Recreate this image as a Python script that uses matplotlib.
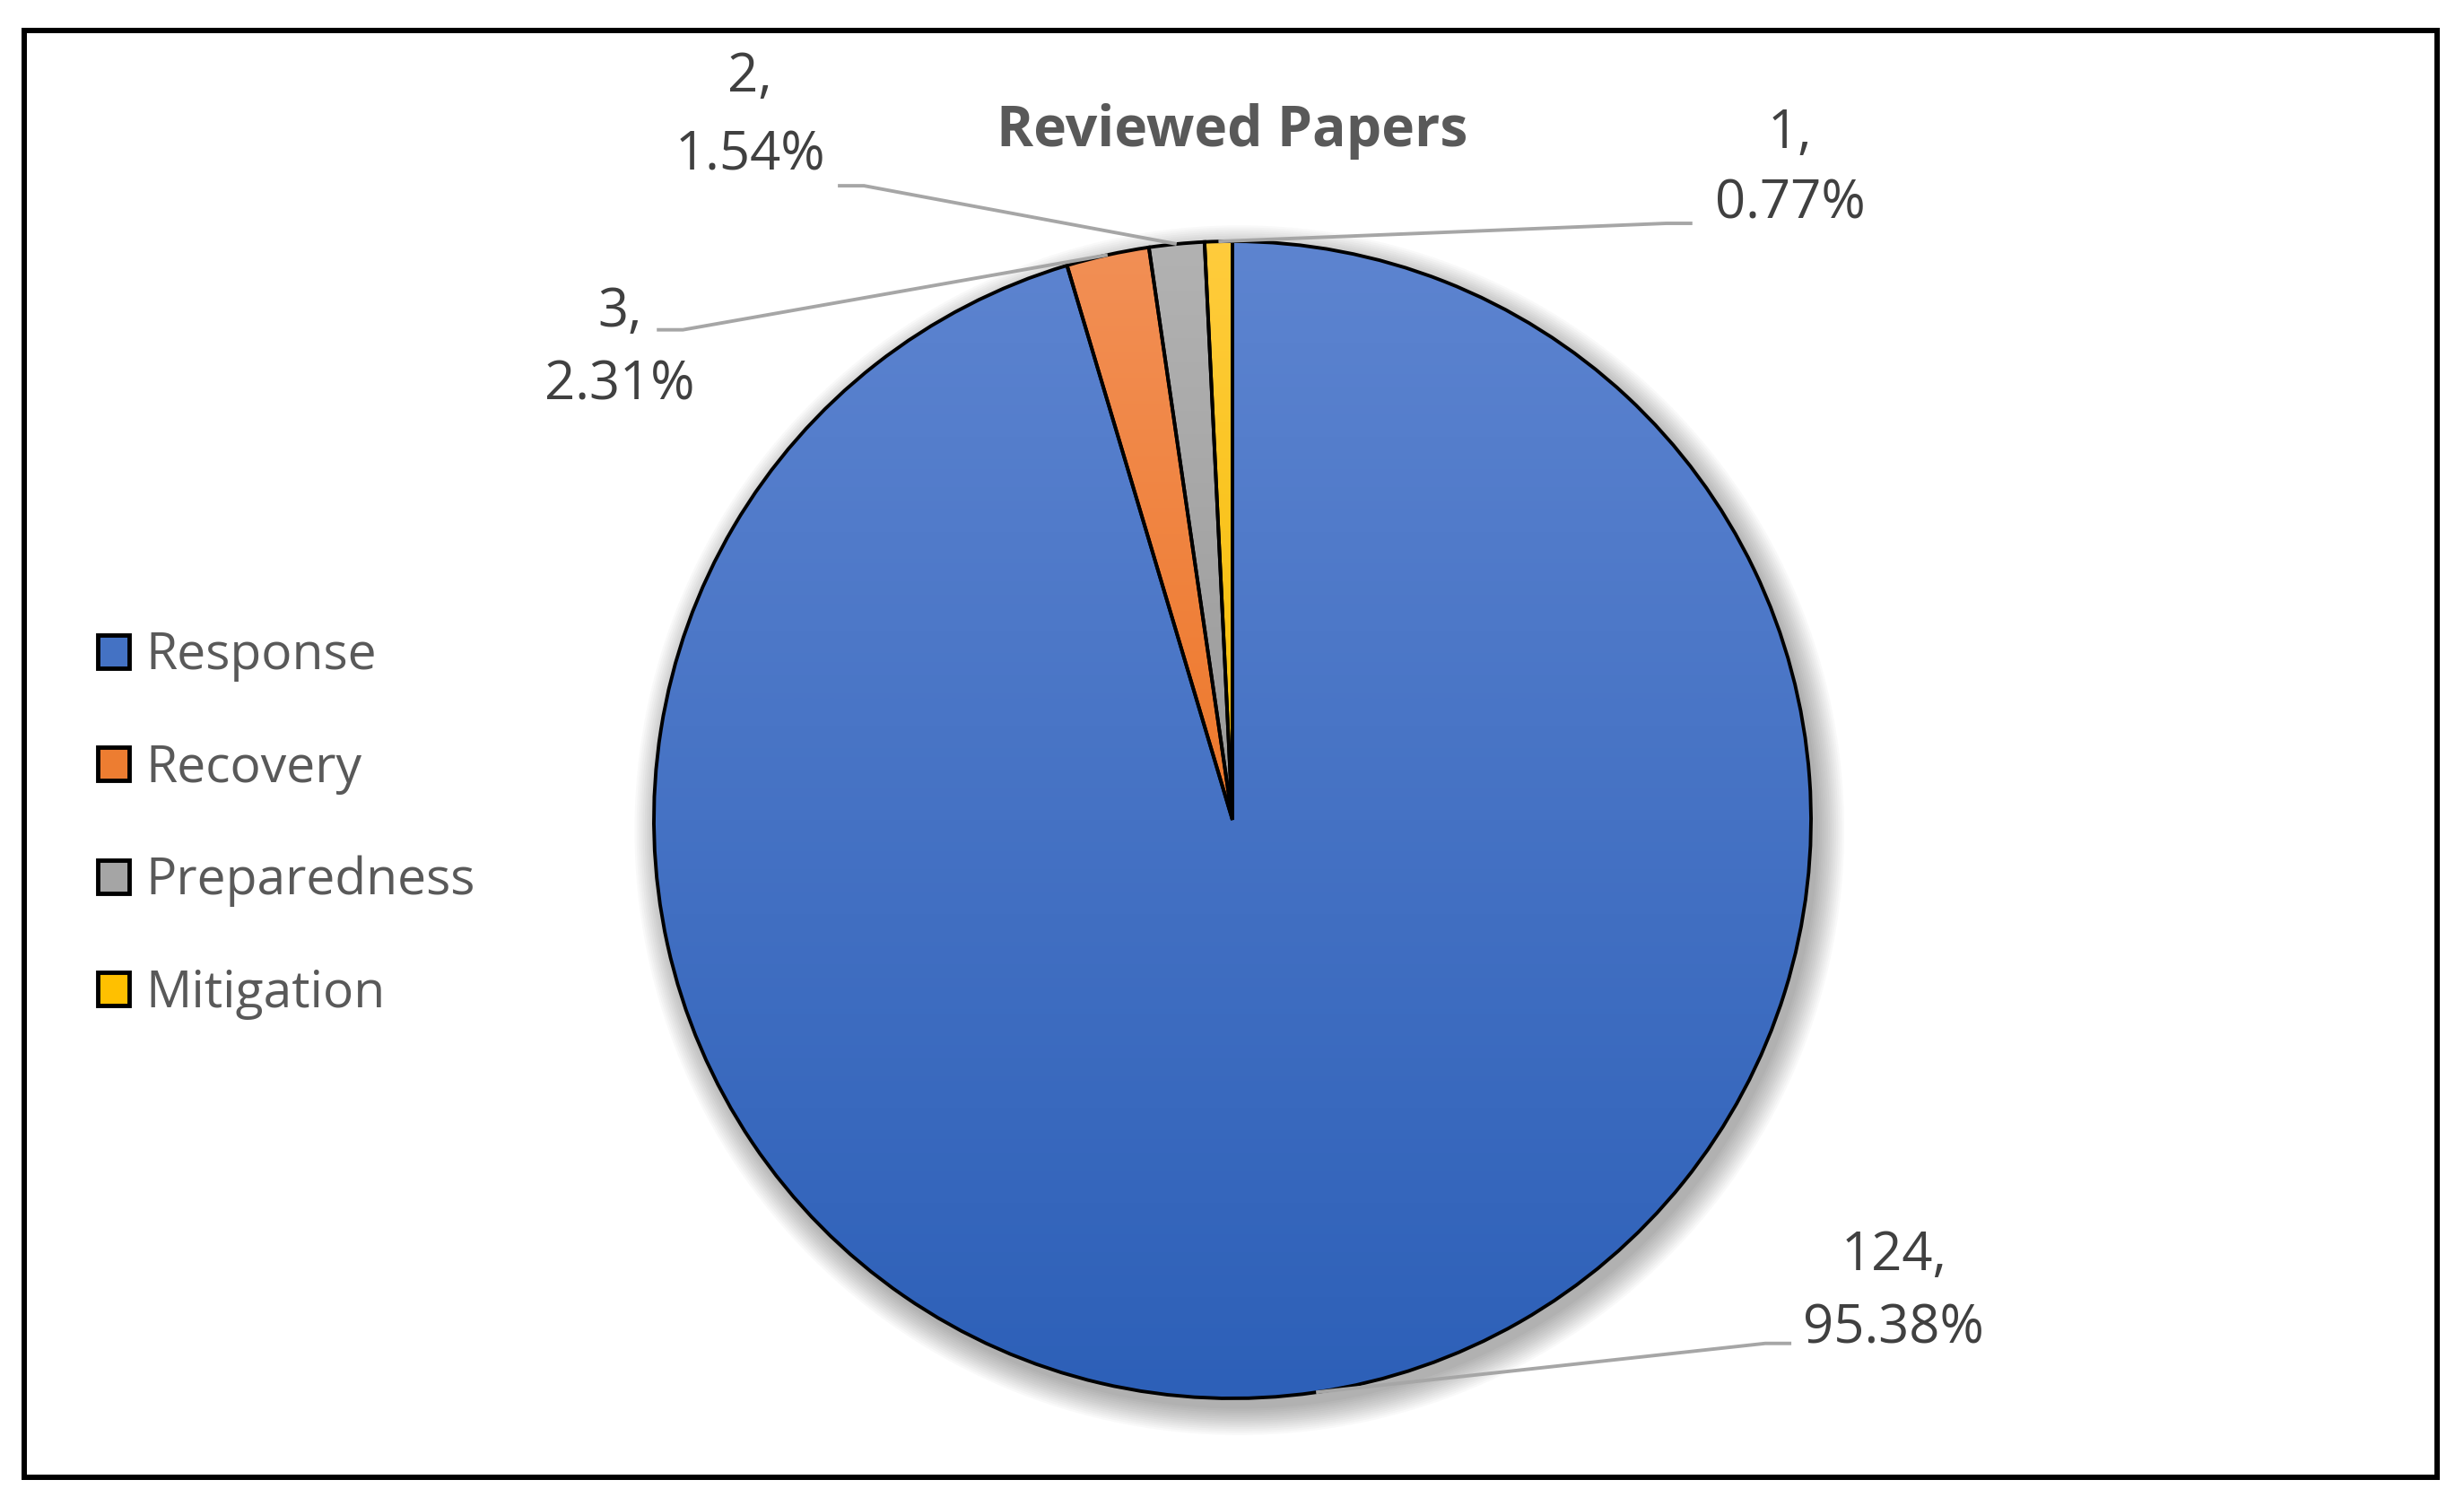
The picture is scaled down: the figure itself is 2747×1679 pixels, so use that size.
import numpy as np
import matplotlib
matplotlib.use("Agg")
import matplotlib.pyplot as plt
from matplotlib.patches import Rectangle, Patch, Circle
from matplotlib.colors import LinearSegmentedColormap

# ---- data ----
categories = ["Response", "Recovery", "Preparedness", "Mitigation"]
counts = [124, 3, 2, 1]
percents = [95.38, 2.31, 1.54, 0.77]
title = "Reviewed Papers"

# ---- style ----
top_colors = ["#5D84D0", "#F28F55", "#B2B2B2", "#FFCC3D"]
bottom_colors = ["#2D60B8", "#EE792C", "#9A9A9A", "#F5BC00"]
legend_colors = ["#4472C4", "#ED7D31", "#A5A5A5", "#FFC000"]
FONT = "Open Sans"

W, H = 2747, 1679
fig = plt.figure(figsize=(W / 100, H / 100), dpi=100)
fig.patch.set_facecolor("white")

cx, cy, R = 1374, 914, 645
ax = fig.add_axes([(cx - R) / W, 1 - (cy + R) / H, 2 * R / W, 2 * R / H])

# soft shadow
for i in range(14):
    ax.add_patch(Circle((0.012, -0.018), 1 + 0.0035 * i, color="black",
                        alpha=0.022, zorder=0, lw=0, clip_on=False))

wedges, _ = ax.pie(counts, startangle=90, counterclock=False, radius=1,
                   wedgeprops=dict(edgecolor="black", linewidth=2.8,
                                   facecolor="none", zorder=3))

grad = np.linspace(0, 1, 256).reshape(-1, 1)
for w, tc, bc in zip(wedges, top_colors, bottom_colors):
    ext = w.get_path().get_extents()
    cmap = LinearSegmentedColormap.from_list("g", [bc, tc])
    im = ax.imshow(grad, extent=[ext.x0, ext.x1, ext.y0, ext.y1], origin="lower",
                   cmap=cmap, aspect="auto", zorder=2, interpolation="bilinear")
    im.set_clip_path(w)

# leader lines & labels
total = sum(counts)
cum = np.concatenate([[0], np.cumsum(counts)[:-1]])
mid_angles = 90 - 360 * (cum + np.array(counts) / 2) / total

label_x = [1.143, -1.059, -0.834, 0.964]
count_y = [-0.778, 0.853, 1.259, 1.161]
pct_y = [-0.905, 0.727, 1.124, 1.039]
leader_end = [(0.966, -0.905), (-0.995, 0.847), (-0.682, 1.096), (0.795, 1.031)]
stub = [-0.045, 0.045, 0.045, -0.045]

for i in range(len(counts)):
    a = np.deg2rad(mid_angles[i])
    sx, sy = np.cos(a), np.sin(a)
    ex, ey = leader_end[i]
    ax.plot([sx, ex + stub[i], ex], [sy, ey, ey], color="#A6A6A6", lw=2.8,
            zorder=4, clip_on=False, solid_capstyle="butt")
    ax.text(label_x[i], count_y[i], f"{counts[i]},", ha="center", va="baseline",
            fontsize=43, color="#404040", family=FONT)
    ax.text(label_x[i], pct_y[i], f"{percents[i]:.2f}%", ha="center", va="baseline",
            fontsize=43, color="#404040", family=FONT)

ax.set_xlim(-1, 1)
ax.set_ylim(-1, 1)
ax.set_aspect("equal")
ax.axis("off")

# title
fig.text(cx / W, 1 - 163 / H, title, ha="center", va="baseline", fontsize=45,
         fontweight="bold", color="#595959", family=FONT)

# legend
handles = [Patch(facecolor=c, edgecolor="black", linewidth=3.5) for c in legend_colors]
leg = fig.legend(handles, categories, loc="center left",
                 bbox_to_anchor=(109 / W, 1 - 920 / H), frameon=False,
                 handlelength=0.62, handleheight=0.62, handletextpad=0.32,
                 labelspacing=1.2, borderpad=0, borderaxespad=0,
                 prop=dict(family=FONT, size=41))
for t in leg.get_texts():
    t.set_color("#595959")

# outer border
fig.add_artist(Rectangle((27 / W, 1 - 1647 / H), (2717 - 27) / W, (1647 - 34) / H,
                         transform=fig.transFigure, fill=False, lw=4.3,
                         edgecolor="black"))

fig.savefig("out.png", dpi=100)
